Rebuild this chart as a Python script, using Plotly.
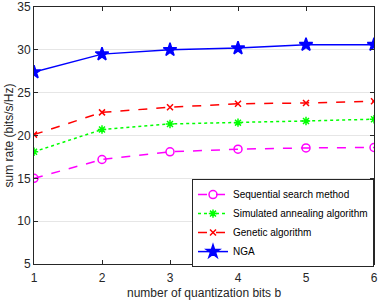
import plotly.graph_objects as go

bits = [1, 2, 3, 4, 5, 6]
sequential = [15.0, 17.2, 18.1, 18.4, 18.55, 18.6]
simulated = [18.1, 20.7, 21.35, 21.5, 21.7, 21.9]
genetic = [20.1, 22.7, 23.3, 23.7, 23.8, 24.0]
nga = [27.4, 29.5, 30.0, 30.2, 30.6, 30.6]

series = [
    ("Sequential search method", sequential, "#FF00FF", "dash", "circle-open", 8),
    ("Simulated annealing algorithm", simulated, "#00FF00", "dot", "asterisk-open", 7),
    ("Genetic algorithm", genetic, "#FF0000", "dash", "x-thin-open", 6),
    ("NGA", nga, "#0000FF", "solid", "star", 10),
]

FONT = "Liberation Sans, Arial, sans-serif"
fig = go.Figure()
for name, vals, color, dash, sym, size in series:
    fig.add_trace(go.Scatter(
        x=bits, y=vals, name=name, mode="lines+markers",
        line=dict(color=color, dash=dash, width=1.5),
        marker=dict(symbol=sym, size=size, color=color,
                    line=dict(color=color, width=1.5)),
    ))

axis_common = dict(
    showline=True, linecolor="#262626", linewidth=1, mirror="ticks",
    ticks="inside", ticklen=4, tickcolor="#262626",
    tickfont=dict(family=FONT, size=12, color="#262626"),
    zeroline=False, automargin=False,
)
fig.update_xaxes(range=[1, 6], tickvals=bits, showgrid=False,
                 ticklabelstandoff=3, **axis_common)
fig.update_yaxes(range=[5, 35], tickvals=[5, 10, 15, 20, 25, 30, 35],
                 showgrid=True, gridcolor="#E6E6E6", **axis_common)

fig.add_annotation(text="number of quantization bits b", xref="paper", yref="paper",
                   x=0.5, y=0, xanchor="center", yanchor="middle", yshift=-29,
                   showarrow=False, font=dict(family=FONT, size=12, color="#262626"))
fig.add_annotation(text="sum rate (bits/s/Hz)", xref="paper", yref="paper",
                   x=0, y=0.5, xanchor="center", yanchor="middle", xshift=-26,
                   textangle=-90, showarrow=False,
                   font=dict(family=FONT, size=12, color="#262626"))

fig.update_layout(
    width=382, height=300,
    margin=dict(l=34, r=8, t=7, b=36),
    plot_bgcolor="white", paper_bgcolor="white",
    legend=dict(x=1, y=-0.012, xanchor="right", yanchor="bottom",
                bgcolor="white", bordercolor="#262626", borderwidth=1,
                font=dict(family=FONT, size=10, color="#000000"),
                tracegroupgap=0, itemwidth=30),
)
fig.write_html("out.html", config={"displayModeBar": False},
               post_script="document.body.style.margin='0';document.body.style.padding='0';")
